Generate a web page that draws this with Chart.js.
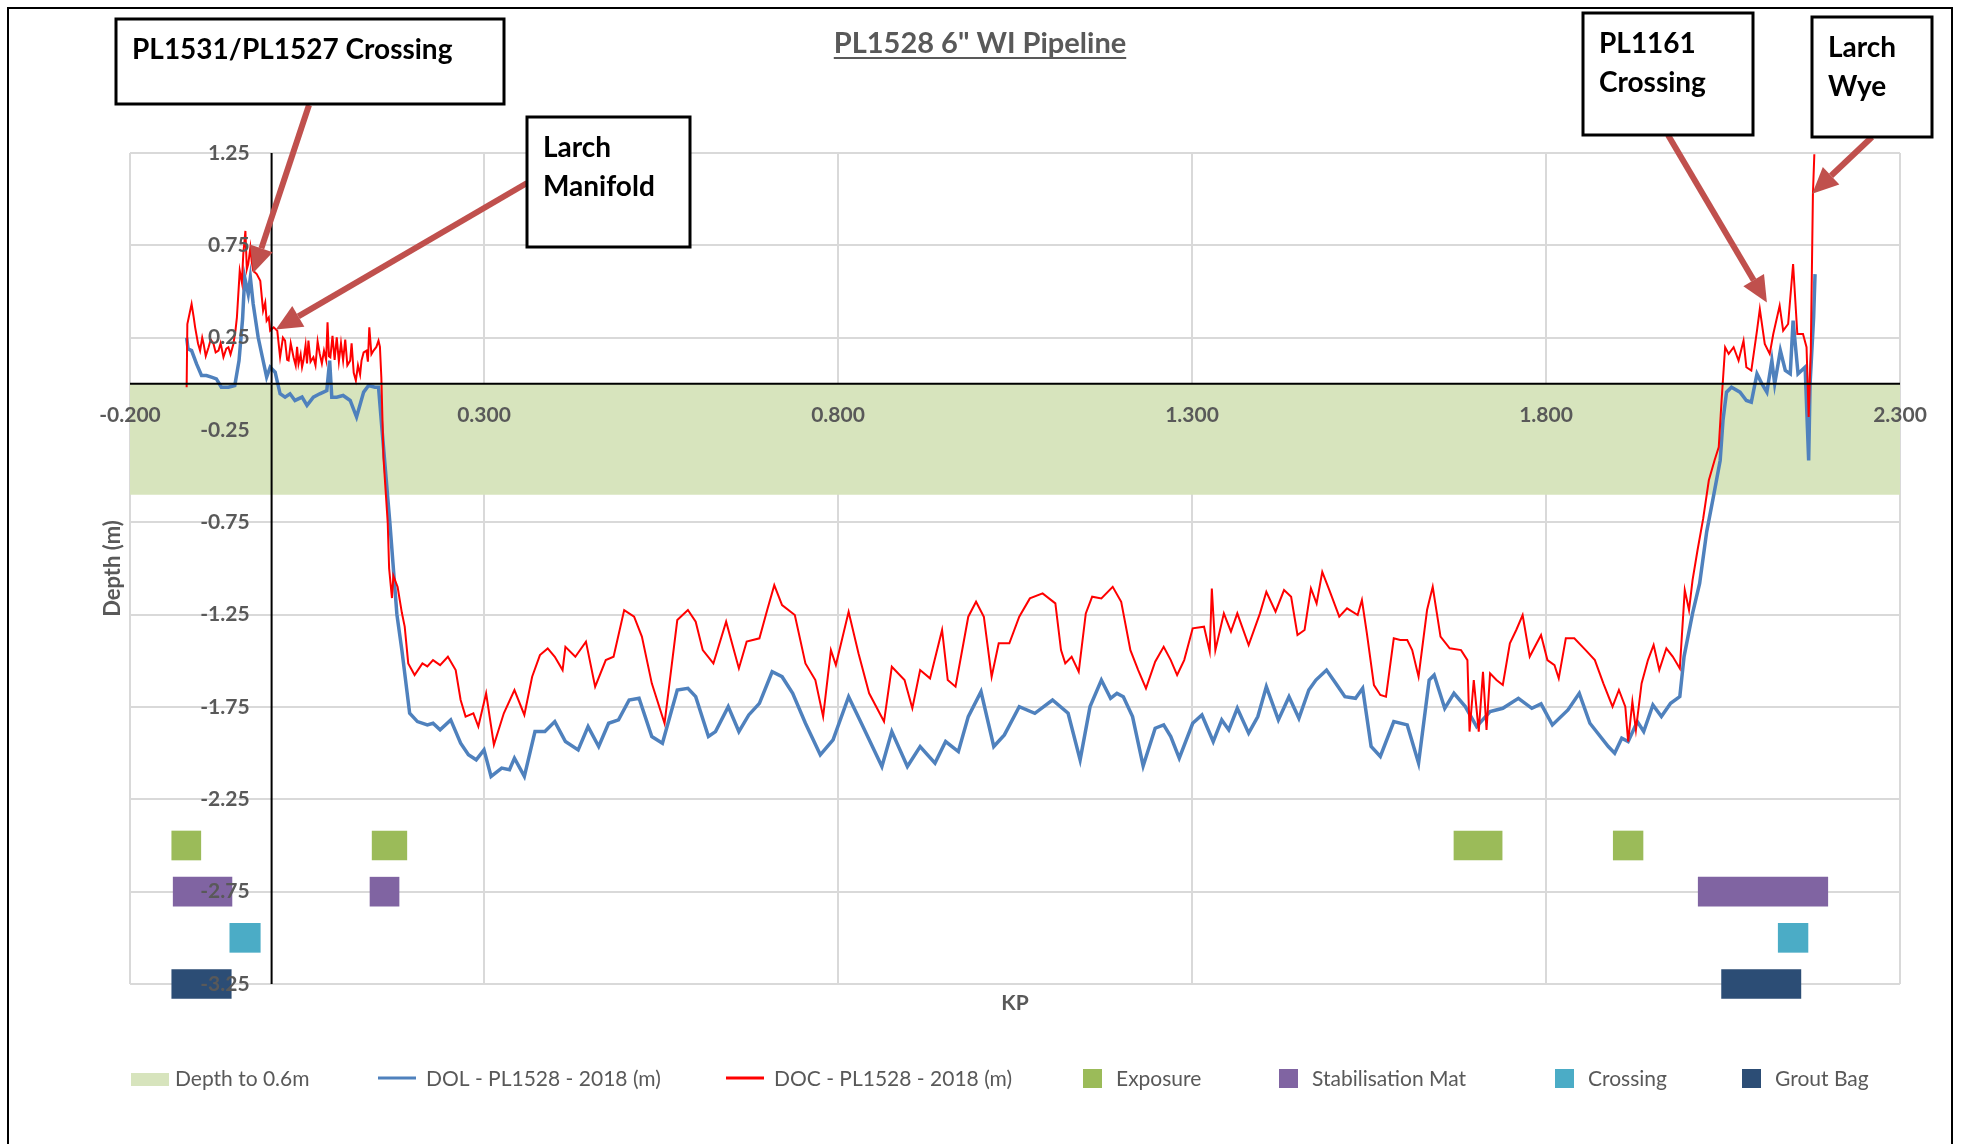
<!DOCTYPE html>
<html>
<head>
<meta charset="utf-8">
<title>PL1528 6" WI Pipeline</title>
<script src="https://cdn.jsdelivr.net/npm/chart.js@4.4.1/dist/chart.umd.min.js"></script>
<style>
  html, body { margin: 0; padding: 0; background: #fff; }
  #wrap { width: 1962px; height: 1144px; position: relative; }
</style>
</head>
<body>
<div id="wrap"><canvas id="depthChart"></canvas></div>
<script>
// axis ticks
const xTicks = [-0.2, 0.3, 0.8, 1.3, 1.8, 2.3];
const yTicks = [1.25, 0.75, 0.25, -0.25, -0.75, -1.25, -1.75, -2.25, -2.75, -3.25];

// depth of lowering cover band (0 to -0.6 m)
const bandDepth = -0.6;

// DOL - PL1528 - 2018 (m): [KP, depth]
const dol = [
  [-0.120, 0.25], [-0.118, 0.189], [-0.113, 0.180], [-0.106, 0.108], [-0.099, 0.045], [-0.092, 0.045],
  [-0.085, 0.036], [-0.078, 0.027], [-0.071, -0.018], [-0.061, -0.018], [-0.052, -0.009], [-0.046, 0.126],
  [-0.041, 0.351], [-0.038, 0.576], [-0.033, 0.486], [-0.030, 0.576], [-0.026, 0.432], [-0.019, 0.252],
  [-0.013, 0.144], [-0.007, 0.036], [-0.002, 0.090], [0.005, 0.063], [0.012, -0.054], [0.019, -0.072],
  [0.026, -0.054], [0.033, -0.090], [0.043, -0.072], [0.050, -0.117], [0.059, -0.072], [0.068, -0.054],
  [0.078, -0.036], [0.082, 0.126], [0.085, -0.072], [0.092, -0.072], [0.101, -0.063], [0.111, -0.090],
  [0.120, -0.180], [0.130, -0.045], [0.137, -0.009], [0.146, -0.018], [0.151, -0.018], [0.156, -0.25],
  [0.167, -0.75], [0.177, -1.25], [0.184, -1.442], [0.195, -1.784], [0.206, -1.829], [0.220, -1.847],
  [0.228, -1.838], [0.238, -1.874], [0.253, -1.820], [0.267, -1.946], [0.278, -2.009], [0.289, -2.036],
  [0.300, -1.982], [0.310, -2.126], [0.325, -2.081], [0.336, -2.090], [0.343, -2.027], [0.357, -2.126],
  [0.372, -1.883], [0.386, -1.883], [0.400, -1.829], [0.415, -1.937], [0.433, -1.982], [0.447, -1.856],
  [0.462, -1.964], [0.476, -1.838], [0.490, -1.820], [0.505, -1.712], [0.519, -1.703], [0.537, -1.910],
  [0.552, -1.946], [0.573, -1.658], [0.588, -1.649], [0.599, -1.694], [0.617, -1.910], [0.627, -1.883],
  [0.645, -1.748], [0.660, -1.883], [0.674, -1.793], [0.689, -1.730], [0.707, -1.559], [0.721, -1.586],
  [0.736, -1.676], [0.754, -1.838], [0.775, -2.009], [0.793, -1.928], [0.815, -1.694], [0.833, -1.838],
  [0.862, -2.072], [0.876, -1.883], [0.898, -2.072], [0.916, -1.964], [0.937, -2.054], [0.952, -1.937],
  [0.970, -1.991], [0.984, -1.802], [1.002, -1.667], [1.020, -1.964], [1.035, -1.901], [1.056, -1.748],
  [1.078, -1.784], [1.103, -1.712], [1.125, -1.784], [1.142, -2.036], [1.156, -1.748], [1.172, -1.604],
  [1.185, -1.703], [1.194, -1.676], [1.203, -1.694], [1.216, -1.802], [1.231, -2.069], [1.248, -1.865],
  [1.260, -1.847], [1.270, -1.910], [1.282, -2.027], [1.301, -1.838], [1.314, -1.793], [1.330, -1.937],
  [1.342, -1.820], [1.352, -1.874], [1.364, -1.757], [1.380, -1.892], [1.393, -1.802], [1.405, -1.640],
  [1.422, -1.820], [1.437, -1.694], [1.451, -1.811], [1.465, -1.658], [1.475, -1.604], [1.490, -1.550],
  [1.503, -1.622], [1.516, -1.694], [1.531, -1.703], [1.541, -1.649], [1.553, -1.964], [1.566, -2.018],
  [1.585, -1.829], [1.604, -1.847], [1.620, -2.054], [1.635, -1.604], [1.642, -1.577], [1.657, -1.757],
  [1.670, -1.676], [1.686, -1.748], [1.702, -1.856], [1.721, -1.775], [1.739, -1.757], [1.761, -1.703],
  [1.780, -1.757], [1.793, -1.733], [1.809, -1.847], [1.831, -1.766], [1.847, -1.676], [1.862, -1.838],
  [1.888, -1.964], [1.897, -2.000], [1.907, -1.919], [1.916, -1.937], [1.929, -1.829], [1.938, -1.883],
  [1.951, -1.739], [1.963, -1.802], [1.976, -1.730], [1.989, -1.694], [1.995, -1.477], [2.007, -1.243],
  [2.017, -1.081], [2.027, -0.80], [2.036, -0.62], [2.046, -0.415], [2.050, -0.198], [2.055, -0.045],
  [2.062, -0.018], [2.074, -0.045], [2.083, -0.090], [2.090, -0.099], [2.098, 0.054], [2.105, 0.000],
  [2.112, -0.045], [2.119, 0.126], [2.123, 0.000], [2.131, 0.180], [2.138, 0.072], [2.145, 0.054],
  [2.149, 0.342], [2.156, 0.054], [2.166, 0.090], [2.171, -0.415], [2.173, 0.000], [2.178, 0.360],
  [2.180, 0.594]
];

// DOC - PL1528 - 2018 (m): [KP, depth]
const doc = [
  [-0.120, -0.018], [-0.119, 0.324], [-0.113, 0.432], [-0.110, 0.36], [-0.108, 0.306], [-0.104, 0.22],
  [-0.101, 0.180], [-0.098, 0.25], [-0.096, 0.216], [-0.093, 0.15], [-0.089, 0.198], [-0.086, 0.24],
  [-0.082, 0.216], [-0.079, 0.17], [-0.075, 0.180], [-0.072, 0.22], [-0.068, 0.144], [-0.064, 0.19],
  [-0.061, 0.198], [-0.058, 0.16], [-0.054, 0.216], [-0.051, 0.29], [-0.049, 0.360], [-0.045, 0.612],
  [-0.042, 0.55], [-0.040, 0.702], [-0.037, 0.828], [-0.035, 0.62], [-0.033, 0.648], [-0.030, 0.738],
  [-0.028, 0.66], [-0.026, 0.612], [-0.021, 0.594], [-0.016, 0.558], [-0.012, 0.396], [-0.009, 0.44],
  [-0.007, 0.342], [-0.004, 0.36], [-0.002, 0.288], [0.003, 0.306], [0.008, 0.288], [0.012, 0.144],
  [0.016, 0.25], [0.019, 0.234], [0.022, 0.13], [0.024, 0.126], [0.027, 0.22], [0.031, 0.144],
  [0.034, 0.10], [0.036, 0.20], [0.038, 0.108], [0.041, 0.16], [0.043, 0.09], [0.045, 0.126],
  [0.048, 0.21], [0.050, 0.11], [0.052, 0.234], [0.055, 0.12], [0.059, 0.144], [0.062, 0.10],
  [0.065, 0.23], [0.068, 0.162], [0.071, 0.11], [0.074, 0.18], [0.077, 0.13], [0.079, 0.333],
  [0.081, 0.15], [0.083, 0.144], [0.086, 0.26], [0.089, 0.13], [0.092, 0.252], [0.095, 0.12],
  [0.098, 0.22], [0.101, 0.126], [0.104, 0.24], [0.107, 0.10], [0.111, 0.126], [0.113, 0.22],
  [0.116, 0.06], [0.119, 0.018], [0.122, 0.10], [0.125, 0.05], [0.127, 0.126], [0.130, 0.17],
  [0.134, 0.180], [0.136, 0.12], [0.138, 0.306], [0.141, 0.16], [0.144, 0.180], [0.148, 0.20],
  [0.151, 0.234], [0.153, 0.20], [0.155, 0.036], [0.158, -0.40], [0.164, -0.75], [0.166, -1.00],
  [0.170, -1.16], [0.172, -1.04], [0.178, -1.10], [0.184, -1.24], [0.188, -1.315], [0.193, -1.514],
  [0.202, -1.577], [0.213, -1.514], [0.220, -1.53], [0.228, -1.496], [0.238, -1.523], [0.249, -1.478],
  [0.260, -1.550], [0.267, -1.712], [0.274, -1.802], [0.285, -1.784], [0.292, -1.856], [0.303, -1.676],
  [0.314, -1.955], [0.328, -1.784], [0.343, -1.658], [0.357, -1.793], [0.368, -1.586], [0.379, -1.469],
  [0.390, -1.433], [0.400, -1.478], [0.411, -1.550], [0.415, -1.424], [0.429, -1.478], [0.444, -1.396],
  [0.457, -1.640], [0.472, -1.496], [0.483, -1.478], [0.498, -1.225], [0.512, -1.261], [0.523, -1.369],
  [0.537, -1.622], [0.555, -1.838], [0.573, -1.279], [0.588, -1.225], [0.599, -1.288], [0.609, -1.442],
  [0.624, -1.514], [0.642, -1.288], [0.660, -1.541], [0.671, -1.396], [0.689, -1.378], [0.700, -1.225],
  [0.710, -1.090], [0.721, -1.198], [0.739, -1.252], [0.754, -1.514], [0.768, -1.604], [0.779, -1.802],
  [0.790, -1.442], [0.797, -1.523], [0.815, -1.234], [0.829, -1.460], [0.844, -1.676], [0.865, -1.829],
  [0.876, -1.532], [0.894, -1.604], [0.905, -1.757], [0.916, -1.550], [0.930, -1.595], [0.947, -1.333],
  [0.955, -1.604], [0.966, -1.640], [0.984, -1.261], [0.995, -1.180], [1.006, -1.261], [1.017, -1.586],
  [1.027, -1.405], [1.042, -1.405], [1.056, -1.261], [1.071, -1.162], [1.089, -1.135], [1.107, -1.189],
  [1.115, -1.442], [1.121, -1.514], [1.130, -1.478], [1.140, -1.559], [1.150, -1.243], [1.159, -1.153],
  [1.172, -1.162], [1.188, -1.099], [1.200, -1.180], [1.213, -1.442], [1.224, -1.550], [1.235, -1.649],
  [1.248, -1.505], [1.260, -1.424], [1.270, -1.496], [1.279, -1.577], [1.289, -1.496], [1.301, -1.324],
  [1.317, -1.315], [1.325, -1.450], [1.328, -1.108], [1.333, -1.442], [1.345, -1.243], [1.355, -1.342],
  [1.364, -1.243], [1.380, -1.415], [1.396, -1.243], [1.405, -1.126], [1.418, -1.234], [1.430, -1.117],
  [1.440, -1.153], [1.449, -1.360], [1.459, -1.333], [1.468, -1.108], [1.476, -1.189], [1.484, -1.018],
  [1.494, -1.117], [1.508, -1.261], [1.519, -1.216], [1.534, -1.252], [1.540, -1.171], [1.547, -1.351],
  [1.557, -1.631], [1.566, -1.685], [1.574, -1.694], [1.585, -1.378], [1.594, -1.387], [1.604, -1.387],
  [1.611, -1.442], [1.620, -1.586], [1.632, -1.225], [1.640, -1.099], [1.651, -1.369], [1.664, -1.432],
  [1.680, -1.442], [1.689, -1.496], [1.692, -1.883], [1.698, -1.604], [1.705, -1.883], [1.711, -1.559],
  [1.716, -1.874], [1.721, -1.568], [1.730, -1.604], [1.739, -1.631], [1.749, -1.405], [1.758, -1.333],
  [1.767, -1.252], [1.777, -1.477], [1.793, -1.360], [1.802, -1.496], [1.812, -1.523], [1.818, -1.595],
  [1.828, -1.378], [1.840, -1.378], [1.856, -1.442], [1.869, -1.496], [1.881, -1.622], [1.894, -1.748],
  [1.903, -1.658], [1.912, -1.748], [1.916, -1.937], [1.922, -1.721], [1.927, -1.874], [1.935, -1.622],
  [1.944, -1.496], [1.952, -1.414], [1.960, -1.550], [1.970, -1.432], [1.979, -1.477], [1.989, -1.541],
  [1.996, -1.117], [2.002, -1.225], [2.007, -1.063], [2.014, -0.901], [2.022, -0.73], [2.030, -0.522],
  [2.038, -0.415], [2.044, -0.342], [2.048, -0.090], [2.053, 0.198], [2.058, 0.162], [2.065, 0.198],
  [2.072, 0.126], [2.079, 0.234], [2.083, 0.090], [2.090, 0.072], [2.098, 0.288], [2.102, 0.405],
  [2.109, 0.216], [2.116, 0.162], [2.121, 0.270], [2.130, 0.423], [2.135, 0.288], [2.142, 0.324],
  [2.149, 0.649], [2.155, 0.270], [2.163, 0.270], [2.168, 0.198], [2.171, -0.180], [2.174, 0.180],
  [2.177, 1.027], [2.179, 1.243]
];

// event rows (plotted level) and KP ranges [from, to]
const exposureLevel = -2.5;
const exposure = [[-0.141, -0.100], [0.142, 0.191], [1.670, 1.738], [1.895, 1.937]];
const matLevel = -2.75;
const stabilisationMat = [[-0.139, -0.056], [0.139, 0.180], [2.015, 2.198]];
const crossingLevel = -3.0;
const crossing = [[-0.059, -0.016], [2.128, 2.170]];
const groutLevel = -3.25;
const groutBag = [[-0.141, -0.057], [2.048, 2.160]];

const TEXT = '#595959';
const ARROW = '#c0504d';
const FONT = 'Lato, "Open Sans", sans-serif';

function toPoints(rows) {
    return rows.map(r => ({ x: r[0], y: r[1] }));
}

function toBars(ranges, level) {
    return ranges.map(r => ({ x: r, y: level }));
}

function barSet(label, ranges, level, color) {
    return {
        type: 'bar',
        label: label,
        indexAxis: 'y',
        data: toBars(ranges, level),
        backgroundColor: color,
        borderWidth: 0,
        grouped: false,
        barPercentage: 1,
        categoryPercentage: 1,
        maxBarThickness: 29,
        clip: false,
        order: 5
    };
}

// text boxes with arrows pointing at the profile
const callouts = [
    { lines: ['PL1531/PL1527 Crossing'], box: [116, 19, 388, 85], from: [309, 105], to: [-0.026, 0.60] },
    { lines: ['Larch', 'Manifold'], box: [527, 117, 163, 130], from: [527, 183], to: [0.006, 0.294] },
    { lines: ['PL1161', 'Crossing'], box: [1583, 13, 170, 122], from: [1668, 135], to: [2.112, 0.44] },
    { lines: ['Larch', 'Wye'], box: [1812, 17, 120, 120], from: [1872, 137], to: [2.176, 1.03] }
];

const legendItems = [
    { text: 'Depth to 0.6m', kind: 'band', color: '#d7e4bd', x: 131 },
    { text: 'DOL - PL1528 - 2018 (m)', kind: 'line', color: '#4f81bd', x: 378 },
    { text: 'DOC - PL1528 - 2018 (m)', kind: 'line', color: '#ff0000', x: 726 },
    { text: 'Exposure', kind: 'box', color: '#9bbb59', x: 1083 },
    { text: 'Stabilisation Mat', kind: 'box', color: '#8064a2', x: 1279 },
    { text: 'Crossing', kind: 'box', color: '#4bacc6', x: 1555 },
    { text: 'Grout Bag', kind: 'box', color: '#2c4d75', x: 1742 }
];

function drawArrow(ctx, x1, y1, x2, y2) {
    const ang = Math.atan2(y2 - y1, x2 - x1);
    const head = 26, half = 12;
    const bx = x2 - head * Math.cos(ang);
    const by = y2 - head * Math.sin(ang);
    ctx.strokeStyle = ARROW;
    ctx.lineWidth = 6;
    ctx.beginPath();
    ctx.moveTo(x1, y1);
    ctx.lineTo(bx, by);
    ctx.stroke();
    ctx.fillStyle = ARROW;
    ctx.beginPath();
    ctx.moveTo(x2, y2);
    ctx.lineTo(bx + half * Math.sin(ang), by - half * Math.cos(ang));
    ctx.lineTo(bx - half * Math.sin(ang), by + half * Math.cos(ang));
    ctx.closePath();
    ctx.fill();
}

const decorations = {
    id: 'decorations',
    beforeDraw(chart) {
        const ctx = chart.ctx;
        ctx.save();
        ctx.fillStyle = '#fff';
        ctx.fillRect(0, 0, chart.width, chart.height);
        ctx.strokeStyle = '#000';
        ctx.lineWidth = 2;
        ctx.strokeRect(8, 8, 1944, 1150);
        ctx.restore();
    },
    afterDatasetsDraw(chart) {
        const { ctx, chartArea: a, scales: { x, y } } = chart;
        const x0 = x.getPixelForValue(0);
        const y0 = y.getPixelForValue(0);
        ctx.save();

        // axes crossing at zero
        ctx.strokeStyle = '#000';
        ctx.lineWidth = 2;
        ctx.beginPath();
        ctx.moveTo(a.left, y0);
        ctx.lineTo(a.right, y0);
        ctx.moveTo(x0, a.top);
        ctx.lineTo(x0, a.bottom);
        ctx.stroke();

        // tick labels
        ctx.fillStyle = TEXT;
        ctx.font = 'bold 21px ' + FONT;
        ctx.textAlign = 'right';
        ctx.textBaseline = 'middle';
        yTicks.forEach(v => ctx.fillText(v.toFixed(2), x0 - 22, y.getPixelForValue(v)));
        ctx.textAlign = 'center';
        xTicks.forEach(v => ctx.fillText(v.toFixed(3), x.getPixelForValue(v), y0 + 31));

        // axis titles
        ctx.fillText('KP', (a.left + a.right) / 2, a.bottom + 19);
        ctx.save();
        ctx.translate(113, (a.top + a.bottom) / 2);
        ctx.rotate(-Math.PI / 2);
        ctx.font = 'bold 22px ' + FONT;
        ctx.fillText('Depth (m)', 0, 0);
        ctx.restore();

        // title, underlined
        const title = 'PL1528 6" WI Pipeline';
        ctx.font = 'bold 29px ' + FONT;
        ctx.textBaseline = 'alphabetic';
        ctx.fillText(title, 980, 53);
        const tw = ctx.measureText(title).width;
        ctx.fillRect(980 - tw / 2, 57, tw, 2);

        // legend
        ctx.font = '21px ' + FONT;
        ctx.textAlign = 'left';
        ctx.textBaseline = 'middle';
        legendItems.forEach(it => {
            let end;
            if (it.kind === 'band') {
                ctx.fillStyle = it.color;
                ctx.fillRect(it.x, 1073, 38, 13);
                end = it.x + 38 + 6;
            } else if (it.kind === 'line') {
                ctx.strokeStyle = it.color;
                ctx.lineWidth = 3;
                ctx.beginPath();
                ctx.moveTo(it.x, 1078);
                ctx.lineTo(it.x + 38, 1078);
                ctx.stroke();
                end = it.x + 38 + 10;
            } else {
                ctx.fillStyle = it.color;
                ctx.fillRect(it.x, 1069, 19, 19);
                end = it.x + 19 + 14;
            }
            ctx.fillStyle = TEXT;
            ctx.fillText(it.text, end, 1079);
        });

        // callouts
        callouts.forEach(c => {
            drawArrow(ctx, c.from[0], c.from[1], x.getPixelForValue(c.to[0]), y.getPixelForValue(c.to[1]));
        });
        ctx.font = 'bold 28px ' + FONT;
        ctx.textBaseline = 'alphabetic';
        callouts.forEach(c => {
            const [bx, by, bw, bh] = c.box;
            ctx.fillStyle = '#fff';
            ctx.fillRect(bx, by, bw, bh);
            ctx.strokeStyle = '#000';
            ctx.lineWidth = 3;
            ctx.strokeRect(bx, by, bw, bh);
            ctx.fillStyle = '#000';
            c.lines.forEach((t, i) => ctx.fillText(t, bx + 16, by + 40 + i * 39));
        });

        ctx.restore();
    }
};

const chart = new Chart(document.getElementById('depthChart'), {
    type: 'line',
    data: {
        datasets: [
            {
                label: 'Depth to 0.6m',
                data: [{ x: xTicks[0], y: bandDepth }, { x: xTicks[xTicks.length - 1], y: bandDepth }],
                backgroundColor: '#d7e4bd',
                borderWidth: 0,
                pointRadius: 0,
                fill: { value: 0 },
                order: 10
            },
            barSet('Exposure', exposure, exposureLevel, '#9bbb59'),
            barSet('Stabilisation Mat', stabilisationMat, matLevel, '#8064a2'),
            barSet('Crossing', crossing, crossingLevel, '#4bacc6'),
            barSet('Grout Bag', groutBag, groutLevel, '#2c4d75'),
            {
                label: 'DOL - PL1528 - 2018 (m)',
                data: toPoints(dol),
                borderColor: '#4f81bd',
                borderWidth: 3.5,
                pointRadius: 0,
                tension: 0,
                fill: false,
                order: 2
            },
            {
                label: 'DOC - PL1528 - 2018 (m)',
                data: toPoints(doc),
                borderColor: '#ff0000',
                borderWidth: 2,
                pointRadius: 0,
                tension: 0,
                fill: false,
                order: 1
            }
        ]
    },
    options: {
        responsive: true,
        maintainAspectRatio: false,
        animation: false,
        devicePixelRatio: 1,
        events: [],
        layout: {
            autoPadding: false,
            padding: { left: 130, right: 62, top: 153, bottom: 160 }
        },
        plugins: {
            legend: { display: false },
            title: { display: false },
            tooltip: { enabled: false }
        },
        scales: {
            x: {
                type: 'linear',
                min: xTicks[0],
                max: xTicks[xTicks.length - 1],
                offset: false,
                afterBuildTicks: s => { s.ticks = xTicks.map(v => ({ value: v })); },
                ticks: { display: false },
                border: { display: false },
                grid: { color: '#d9d9d9', lineWidth: 2, drawTicks: false, offset: false }
            },
            y: {
                type: 'linear',
                min: yTicks[yTicks.length - 1],
                max: yTicks[0],
                offset: false,
                afterBuildTicks: s => { s.ticks = yTicks.map(v => ({ value: v })); },
                ticks: { display: false },
                border: { display: false },
                grid: { color: '#d9d9d9', lineWidth: 2, drawTicks: false, offset: false }
            }
        }
    },
    plugins: [decorations]
});
</script>
</body>
</html>
